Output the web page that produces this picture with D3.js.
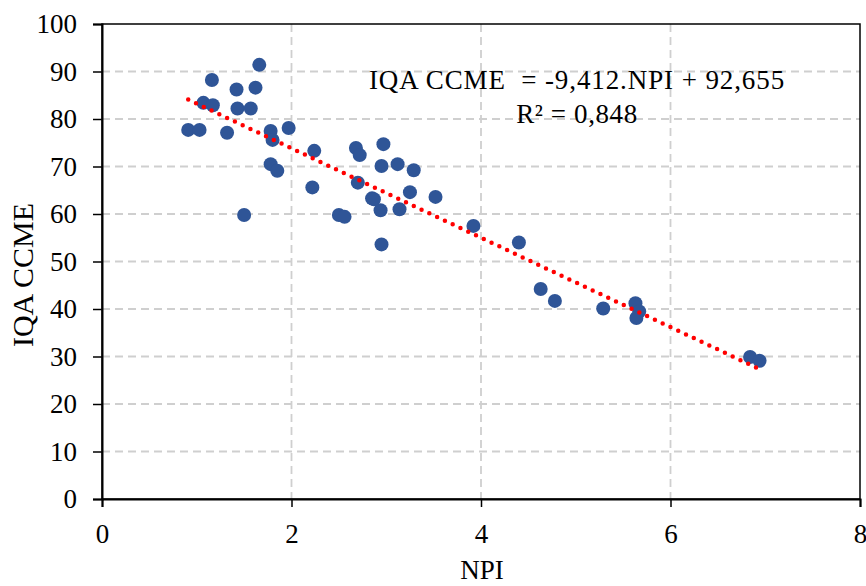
<!DOCTYPE html>
<html>
<head>
<meta charset="utf-8">
<script src="https://cdn.jsdelivr.net/npm/d3@7"></script>
<style>
  html, body { margin: 0; padding: 0; background: #fff; }
  svg { display: block; }
</style>
</head>
<body>
<div id="chart"></div>
<script>
// NPI vs IQA CCME
const npi = [0.91, 1.03, 1.07, 1.16, 1.17, 1.32, 1.42, 1.43, 1.50, 1.57, 1.62, 1.66,
  1.78, 1.80, 1.78, 1.85, 1.97, 2.22, 2.24, 2.50, 2.56, 2.68, 2.72, 2.70, 2.85, 2.87,
  2.95, 2.94, 2.95, 2.97, 3.12, 3.14, 3.25, 3.29, 3.52, 3.92, 4.40, 4.63, 4.78, 5.29,
  5.63, 5.67, 5.64, 6.84, 6.94];
const iqa = [77.7, 77.7, 83.4, 88.2, 82.9, 77.1, 86.2, 82.2, 59.8, 82.2, 86.6, 91.4,
  77.5, 75.6, 70.5, 69.1, 78.1, 65.6, 73.3, 59.8, 59.4, 73.9, 72.4, 66.6, 63.3, 63.1,
  53.6, 60.8, 70.1, 74.7, 70.5, 61.0, 64.6, 69.2, 63.6, 57.5, 54.0, 44.2, 41.7, 40.1,
  41.2, 39.5, 38.1, 29.9, 29.1];

const slope = -9.412;
const intercept = 92.655;
const trendX = [0.91, 6.94];

const xTicks = [0, 2, 4, 6, 8];
const yTicks = [0, 10, 20, 30, 40, 50, 60, 70, 80, 90, 100];
const eqLabel = 'IQA CCME  = -9,412.NPI + 92,655';
const r2Label = 'R² = 0,848';

const W = 866, H = 586;
const margin = { top: 24, right: 6, bottom: 87, left: 102 };
const iw = W - margin.left - margin.right;
const ih = H - margin.top - margin.bottom;
const FONT = "'Liberation Serif', 'Times New Roman', serif";

const svg = d3.select('#chart').append('svg')
  .attr('width', W)
  .attr('height', H)
  .attr('viewBox', `0 0 ${W} ${H}`);

const g = svg.append('g').attr('transform', `translate(${margin.left},${margin.top})`);

const x = d3.scaleLinear().domain([0, 8]).range([0, iw]);
const y = d3.scaleLinear().domain([0, 100]).range([ih, 0]);

// grid
g.append('g')
  .selectAll('line')
  .data(yTicks.filter((d) => d > 0 && d < 100))
  .join('line')
  .attr('x1', 0).attr('x2', iw)
  .attr('y1', (d) => y(d)).attr('y2', (d) => y(d))
  .attr('stroke', '#cfcfcf')
  .attr('stroke-width', 1.8)
  .attr('stroke-dasharray', '8 5');

g.append('g')
  .selectAll('line')
  .data(xTicks.filter((d) => d > 0 && d < 8))
  .join('line')
  .attr('x1', (d) => x(d)).attr('x2', (d) => x(d))
  .attr('y1', 0).attr('y2', ih)
  .attr('stroke', '#cfcfcf')
  .attr('stroke-width', 1.8)
  .attr('stroke-dasharray', '8 5');

// box
g.append('rect')
  .attr('x', 0).attr('y', 0)
  .attr('width', iw).attr('height', ih)
  .attr('fill', 'none')
  .attr('stroke', '#000')
  .attr('stroke-width', 1.5);

// axes
const xAxis = g.append('g')
  .attr('transform', `translate(0,${ih})`)
  .call(d3.axisBottom(x).tickValues(xTicks).tickSize(8).tickPadding(17).tickFormat(d3.format('d')));

const yAxis = g.append('g')
  .call(d3.axisLeft(y).tickValues(yTicks).tickSize(9).tickPadding(16).tickFormat(d3.format('d')));

[xAxis, yAxis].forEach((a) => {
  a.select('.domain').attr('stroke', '#000').attr('stroke-width', 2);
  a.selectAll('.tick line').attr('stroke', '#000').attr('stroke-width', 1.5);
  a.selectAll('.tick text')
    .attr('font-family', FONT)
    .attr('font-size', '27px')
    .attr('fill', '#000');
});

// points
g.append('g')
  .selectAll('circle')
  .data(npi.map((v, i) => [v, iqa[i]]))
  .join('circle')
  .attr('cx', (d) => x(d[0]))
  .attr('cy', (d) => y(d[1]))
  .attr('r', 7)
  .attr('fill', '#2f5597');

// linear trend line, dotted
g.append('line')
  .attr('x1', x(trendX[0])).attr('y1', y(slope * trendX[0] + intercept))
  .attr('x2', x(trendX[1])).attr('y2', y(slope * trendX[1] + intercept))
  .attr('stroke', '#ff0000')
  .attr('stroke-width', 4.5)
  .attr('stroke-linecap', 'round')
  .attr('stroke-dasharray', '0 8.6');

// equation
g.append('text')
  .attr('x', 475).attr('y', 65)
  .attr('text-anchor', 'middle')
  .attr('font-family', FONT)
  .attr('font-size', '27px')
  .attr('letter-spacing', '0.9px')
  .attr('fill', '#000')
  .style('white-space', 'pre')
  .text(eqLabel);

g.append('text')
  .attr('x', 475).attr('y', 99)
  .attr('text-anchor', 'middle')
  .attr('font-family', FONT)
  .attr('font-size', '27px')
  .attr('letter-spacing', '0.6px')
  .attr('fill', '#000')
  .text(r2Label);

// axis titles
svg.append('text')
  .attr('x', 482).attr('y', 579)
  .attr('text-anchor', 'middle')
  .attr('font-family', FONT)
  .attr('font-size', '27px')
  .text('NPI');

svg.append('text')
  .attr('transform', 'translate(33,275) rotate(-90)')
  .attr('text-anchor', 'middle')
  .attr('font-family', FONT)
  .attr('font-size', '30px')
  .text('IQA CCME');
</script>
</body>
</html>
